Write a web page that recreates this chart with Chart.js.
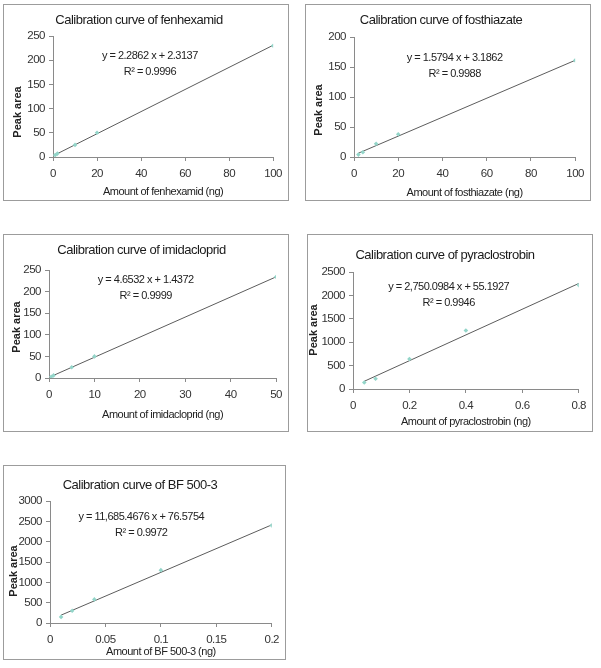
<!DOCTYPE html>
<html>
<head>
<meta charset="utf-8">
<script src="https://cdn.jsdelivr.net/npm/chart.js@4.4.1/dist/chart.umd.min.js"></script>
<style>
  body { margin: 0; background: #fff; width: 601px; height: 668px; position: relative; overflow: hidden; }
  .panel { position: absolute; border: 1px solid #9c9c9c; background: #fff; }
  .panel canvas { display: block; }
</style>
</head>
<body>
<script>
const titles = [
  'Calibration curve of fenhexamid',
  'Calibration curve of fosthiazate',
  'Calibration curve of imidacloprid',
  'Calibration curve of pyraclostrobin',
  'Calibration curve of BF 500-3'
];
const xTitles = [
  'Amount of fenhexamid (ng)',
  'Amount of fosthiazate (ng)',
  'Amount of imidacloprid (ng)',
  'Amount of pyraclostrobin (ng)',
  'Amount of BF 500-3 (ng)'
];

// measured points
const fenhexamidX = [1, 2, 10, 20, 100];
const fenhexamidY = [4, 7, 25, 50, 230];
const fosthiazateX = [2, 4, 10, 20, 100];
const fosthiazateY = [4, 8, 22, 38, 161];
const imidaclopridX = [0.5, 1, 5, 10, 50];
const imidaclopridY = [3, 6, 25, 50, 234];
const pyraclostrobinX = [0.04, 0.08, 0.2, 0.4, 0.8];
const pyraclostrobinY = [140, 220, 640, 1250, 2220];
const bf5003X = [0.01, 0.02, 0.04, 0.1, 0.2];
const bf5003Y = [150, 300, 580, 1300, 2400];

// linear fits printed on the charts
const slopes = [2.2862, 1.5794, 4.6532, 2750.0984, 11685.4676];
const intercepts = [2.3137, 3.1862, 1.4372, 55.1927, 76.5754];
const equations = [
  'y = 2.2862 x + 2.3137',
  'y = 1.5794 x + 3.1862',
  'y = 4.6532 x + 1.4372',
  'y = 2,750.0984 x + 55.1927',
  'y = 11,685.4676 x + 76.5754'
];
const r2Labels = ['R² = 0.9996', 'R² = 0.9988', 'R² = 0.9999', 'R² = 0.9946', 'R² = 0.9972'];

// axes
const xMax = [100, 100, 50, 0.8, 0.2];
const xStep = [20, 20, 10, 0.2, 0.05];
const yMax = [250, 200, 250, 2500, 3000];
const yStep = [50, 50, 50, 500, 500];

// where the equation box sits, in data units
const labelX = [44, 45.5, 21.3, 0.339, 0.0823];
const labelY = [209, 165, 227, 2180, 2607];

const seriesX = [fenhexamidX, fosthiazateX, imidaclopridX, pyraclostrobinX, bf5003X];
const seriesY = [fenhexamidY, fosthiazateY, imidaclopridY, pyraclostrobinY, bf5003Y];

// page layout (px)
const panels = [
  { left: 3, top: 4, width: 286, height: 197, plotL: 53, plotR: 274, plotT: 36, plotB: 157, titleY: 20, xTitleY: 192, yTitleX: 18, yTitleY: 112 },
  { left: 305, top: 4, width: 286, height: 197, plotL: 354, plotR: 576, plotT: 37, plotB: 157, titleY: 20, xTitleY: 193, yTitleX: 319, yTitleY: 110 },
  { left: 3, top: 234, width: 286, height: 198, plotL: 49, plotR: 279, plotT: 270, plotB: 378, titleY: 250, xTitleY: 415, yTitleX: 17, yTitleY: 327 },
  { left: 307, top: 234, width: 286, height: 198, plotL: 353, plotR: 582, plotT: 272, plotB: 389, titleY: 255, xTitleY: 422, yTitleX: 314, yTitleY: 330 },
  { left: 3, top: 465, width: 283, height: 195, plotL: 50, plotR: 276, plotT: 501, plotB: 623, titleY: 485, xTitleY: 653, yTitleX: 14, yTitleY: 571 }
];

const FONT = '"Liberation Sans", Arial, sans-serif';
const axisColor = '#8a8a8a';
const markerColor = '#93d5c9';

// the original uses a condensed face; tighten Liberation Sans instead
const condense = {
  id: 'condense',
  beforeLayout(chart) { chart.ctx.letterSpacing = '-0.5px'; },
  beforeDraw(chart) { chart.ctx.letterSpacing = '-0.5px'; }
};

const fitText = {
  id: 'fitText',
  afterDatasetsDraw(chart, args, opts) {
    const { ctx, scales: { x, y } } = chart;
    const px = x.getPixelForValue(opts.x);
    const py = y.getPixelForValue(opts.y);
    ctx.save();
    ctx.fillStyle = '#222';
    ctx.textAlign = 'center';
    ctx.textBaseline = 'middle';
    ctx.letterSpacing = '-0.5px';
    ctx.font = '11px ' + FONT;
    ctx.fillText(opts.eq, px, py);
    ctx.fillText(opts.r2, px, py + 16);
    ctx.translate(opts.yTitleX, opts.yTitleY);
    ctx.rotate(-Math.PI / 2);
    ctx.letterSpacing = '0px';
    ctx.font = 'bold 11px ' + FONT;
    ctx.fillText('Peak area', 0, 0);
    ctx.restore();
  }
};

function fmt(v) {
  return String(Math.round(v * 1e6) / 1e6);
}

function makeChart(i) {
  const p = panels[i];
  const w = p.width - 2, h = p.height - 2;
  const cx = p.left + 1, cy = p.top + 1;

  const wrap = document.createElement('div');
  wrap.className = 'panel';
  wrap.style.left = p.left + 'px';
  wrap.style.top = p.top + 'px';
  wrap.style.width = w + 'px';
  wrap.style.height = h + 'px';
  const canvas = document.createElement('canvas');
  canvas.width = w;
  canvas.height = h;
  canvas.style.width = w + 'px';
  canvas.style.height = h + 'px';
  wrap.appendChild(canvas);
  document.body.appendChild(wrap);

  const xs = seriesX[i], ys = seriesY[i];
  const points = xs.map((x, k) => ({ x, y: ys[k] }));
  const x0 = xs[0], x1 = xs[xs.length - 1];
  const trend = [
    { x: x0, y: slopes[i] * x0 + intercepts[i] },
    { x: x1, y: slopes[i] * x1 + intercepts[i] }
  ];

  const titleSize = 13;
  const titleLh = titleSize * 1.2;
  const titlePadTop = p.titleY - cy - titleLh / 2;
  const titlePadBottom = p.plotT - cy - titleLh - titlePadTop;
  const xTitlePad = Math.max(0, (cy + h - p.xTitleY) - 11 * 0.6);

  const tickFont = { family: FONT, size: 11.5 };

  new Chart(canvas, {
    type: 'scatter',
    data: {
      datasets: [
        {
          data: points,
          pointStyle: 'rectRot',
          pointRadius: 2.3,
          backgroundColor: markerColor,
          borderColor: markerColor,
          borderWidth: 0,
          order: 1
        },
        {
          data: trend,
          showLine: true,
          borderColor: '#5c5c5c',
          borderWidth: 1,
          pointRadius: 0,
          order: 2
        }
      ]
    },
    options: {
      responsive: false,
      animation: false,
      events: [],
      layout: { padding: { left: 0, top: 0, bottom: 0, right: cx + w - p.plotR } },
      plugins: {
        legend: { display: false },
        tooltip: { enabled: false },
        title: {
          display: true,
          text: titles[i],
          color: '#1a1a1a',
          font: { family: FONT, size: titleSize, weight: 'normal' },
          padding: { top: titlePadTop, bottom: titlePadBottom }
        },
        fitText: {
          x: labelX[i], y: labelY[i], eq: equations[i], r2: r2Labels[i],
          yTitleX: p.yTitleX - cx, yTitleY: p.yTitleY - cy
        }
      },
      scales: {
        x: {
          type: 'linear',
          min: 0,
          max: xMax[i],
          afterFit: s => { s.height = cy + h - p.plotB; },
          ticks: { stepSize: xStep[i], callback: fmt, font: tickFont, color: '#333', padding: 6, maxRotation: 0 },
          grid: { drawOnChartArea: false, tickLength: 4, color: axisColor },
          border: { color: axisColor },
          title: {
            display: true,
            text: xTitles[i],
            color: '#222',
            font: { family: FONT, size: 11 },
            padding: { top: 0, bottom: xTitlePad }
          }
        },
        y: {
          type: 'linear',
          min: 0,
          max: yMax[i],
          afterFit: s => { s.width = p.plotL - cx; },
          ticks: { stepSize: yStep[i], callback: fmt, font: tickFont, color: '#333', padding: 4 },
          grid: { drawOnChartArea: false, tickLength: 4, color: axisColor },
          border: { color: axisColor }
        }
      }
    },
    plugins: [condense, fitText]
  });
}

for (let i = 0; i < panels.length; i++) makeChart(i);
</script>
</body>
</html>
